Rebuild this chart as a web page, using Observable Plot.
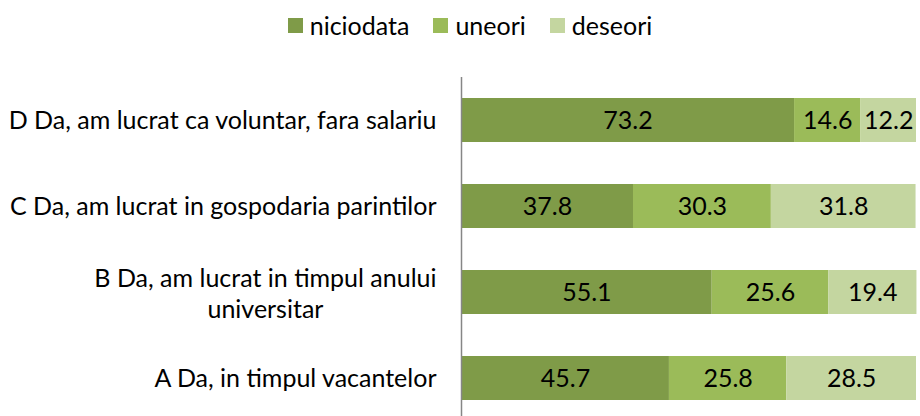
<!DOCTYPE html>
<html>
<head>
<meta charset="utf-8">
<script src="https://cdn.jsdelivr.net/npm/d3@7"></script>
<script src="https://cdn.jsdelivr.net/npm/@observablehq/plot@0.6"></script>
<style>
  html, body { margin: 0; padding: 0; background: #fff; overflow: hidden; }
  body { width: 920px; height: 416px; font-family: Lato, "Noto Sans", sans-serif; }
  #legend { height: 50px; display: flex; justify-content: center; align-items: center; padding-left: 20px; box-sizing: border-box; font-size: 25px; color: #000; }
  #legend .item { display: flex; align-items: center; margin: 0 12px; }
  #legend .sw { width: 15px; height: 15px; margin-right: 7px; }
</style>
</head>
<body>
<div id="legend"></div>
<div id="chart"></div>
<script>
const categories = [
  "D Da, am lucrat ca voluntar, fara salariu",
  "C Da, am lucrat in gospodaria parintilor",
  "B Da, am lucrat in timpul anului universitar",
  "A Da, in timpul vacantelor"
];
const labelLines = [
  ["D Da, am lucrat ca voluntar, fara salariu"],
  ["C Da, am lucrat in gospodaria parintilor"],
  ["B Da, am lucrat in timpul anului", "universitar"],
  ["A Da, in timpul vacantelor"]
];
const seriesNames = ["niciodata", "uneori", "deseori"];
const niciodata = [73.2, 37.8, 55.1, 45.7];
const uneori = [14.6, 30.3, 25.6, 25.8];
const deseori = [12.2, 31.8, 19.4, 28.5];
const colors = ["#7f9b48", "#9bbb59", "#c4d6a0"];

const seriesValues = [niciodata, uneori, deseori];
const data = [];
categories.forEach((c, i) => {
  seriesNames.forEach((s, j) => data.push({cat: c, series: s, value: seriesValues[j][i]}));
});

// legend
const legend = document.getElementById("legend");
seriesNames.forEach((s, j) => {
  const it = document.createElement("div");
  it.className = "item";
  it.innerHTML = `<span class="sw" style="background:${colors[j]}"></span><span>${s}</span>`;
  legend.appendChild(it);
});

const fontFamily = "Lato, 'Noto Sans', sans-serif";
const fontSize = 25;
const canvas = document.createElement("canvas");
const ctx = canvas.getContext("2d");
ctx.font = `${fontSize}px Lato`;

const labelGap = 25;
const labelData = [];
labelLines.forEach((lines, i) => {
  if (lines.length === 1) {
    labelData.push({cat: categories[i], text: lines[0], anchor: "end", dx: -labelGap, dy: 0});
  } else {
    const w0 = ctx.measureText(lines[0]).width;
    const center = -labelGap - w0 / 2;
    const lh = 31;
    labelData.push({cat: categories[i], text: lines[0], anchor: "end", dx: -labelGap, dy: -lh / 2 + 2});
    labelData.push({cat: categories[i], text: lines[1], anchor: "middle", dx: center, dy: lh / 2 + 2});
  }
});

const H = 366;
const plotTop = 27;
const chart = Plot.plot({
  width: 920,
  height: H,
  marginTop: plotTop,
  marginBottom: 0,
  marginLeft: 461,
  marginRight: 4,
  style: {fontFamily, fontSize: fontSize + "px", color: "#000", background: "#fff"},
  x: {domain: [0, 100], axis: null},
  y: {domain: categories, range: [plotTop, plotTop + 4 * 86], paddingInner: 0.488, paddingOuter: 0.244, axis: null},
  color: {domain: seriesNames, range: colors},
  marks: [
    Plot.barX(data, Plot.stackX({x: "value", y: "cat", fill: "series"})),
    Plot.text(data, Plot.stackX({x: "value", y: "cat", text: d => d.value.toFixed(1), fill: "#000", fontSize: fontSize})),
    ...labelData.map(d => Plot.text([d], {x: () => 0, y: "cat", text: "text", textAnchor: d.anchor, dx: d.dx, dy: d.dy, fill: "#000", fontSize: fontSize})),
    Plot.ruleX([0], {stroke: "#868686", strokeWidth: 1.5})
  ]
});
document.getElementById("chart").appendChild(chart);
</script>
</body>
</html>
